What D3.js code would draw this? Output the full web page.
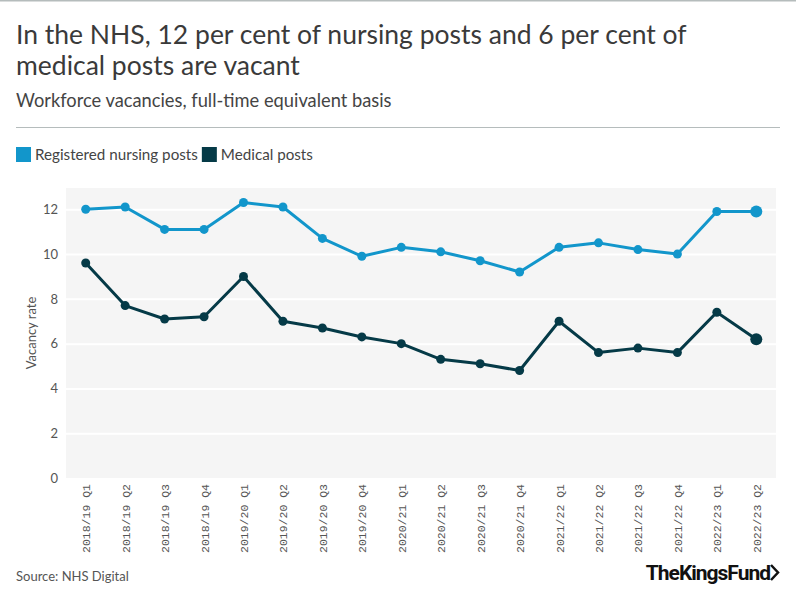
<!DOCTYPE html>
<html>
<head>
<meta charset="utf-8">
<script src="https://cdn.jsdelivr.net/npm/d3@7"></script>
<style>
  body { margin: 0; background: #fff; }
  svg { display: block; font-family: Lato, "Open Sans", sans-serif; }
</style>
</head>
<body>
<div id="chart"></div>
<script>
// quarters on the x axis
const quarters = [
  "2018/19 Q1", "2018/19 Q2", "2018/19 Q3", "2018/19 Q4",
  "2019/20 Q1", "2019/20 Q2", "2019/20 Q3", "2019/20 Q4",
  "2020/21 Q1", "2020/21 Q2", "2020/21 Q3", "2020/21 Q4",
  "2021/22 Q1", "2021/22 Q2", "2021/22 Q3", "2021/22 Q4",
  "2022/23 Q1", "2022/23 Q2"
];
const nursing = [12.0, 12.1, 11.1, 11.1, 12.3, 12.1, 10.7, 9.9, 10.3, 10.1, 9.7, 9.2, 10.3, 10.5, 10.2, 10.0, 11.9, 11.9];
const medical = [9.6, 7.7, 7.1, 7.2, 9.0, 7.0, 6.7, 6.3, 6.0, 5.3, 5.1, 4.8, 7.0, 5.6, 5.8, 5.6, 7.4, 6.2];
const yTicks = [0, 2, 4, 6, 8, 10, 12];

const series = [
  { name: "Registered nursing posts", values: nursing, color: "#1296cb" },
  { name: "Medical posts", values: medical, color: "#053a47" }
];

const width = 796, height = 600;
const plot = { left: 66, right: 776, top: 188, bottom: 478 };

const svg = d3.select("#chart").append("svg")
  .attr("width", width)
  .attr("height", height);

// thin rule along the very top
svg.append("rect").attr("x", 0).attr("y", 0).attr("width", width).attr("height", 1.5).attr("fill", "#b5bcbc");

// title block
const title = svg.append("text")
  .attr("x", 16)
  .attr("font-size", 26.5)
  .attr("fill", "#3a3a3a");
title.append("tspan").attr("x", 16).attr("y", 44).text("In the NHS, 12 per cent of nursing posts and 6 per cent of");
title.append("tspan").attr("x", 16).attr("y", 75).text("medical posts are vacant");

svg.append("text")
  .attr("x", 16).attr("y", 107)
  .attr("font-size", 18.3)
  .attr("fill", "#444")
  .text("Workforce vacancies, full-time equivalent basis");

svg.append("line")
  .attr("x1", 16).attr("x2", 780)
  .attr("y1", 127.5).attr("y2", 127.5)
  .attr("stroke", "#b5bcbc");

// legend
let lx = 16;
series.forEach(s => {
  svg.append("rect").attr("x", lx).attr("y", 147).attr("width", 15).attr("height", 15).attr("fill", s.color);
  const t = svg.append("text")
    .attr("x", lx + 19).attr("y", 160)
    .attr("font-size", 15.2)
    .attr("fill", "#444")
    .text(s.name);
  lx += 19 + t.node().getComputedTextLength() + 4;
});

// scales
const x = d3.scalePoint()
  .domain(quarters)
  .range([plot.left, plot.right])
  .padding(0.5);

const y = d3.scaleLinear()
  .domain([0, 12.95])
  .range([plot.bottom, plot.top]);

svg.append("rect")
  .attr("x", plot.left).attr("y", plot.top)
  .attr("width", plot.right - plot.left)
  .attr("height", plot.bottom - plot.top)
  .attr("fill", "#f5f5f5");

// y axis with white grid lines
const yAxis = svg.append("g")
  .attr("transform", `translate(${plot.left},0)`)
  .call(d3.axisLeft(y).tickValues(yTicks).tickSize(-(plot.right - plot.left)).tickPadding(8));
yAxis.select(".domain").remove();
yAxis.selectAll(".tick line").attr("stroke", "#fff").attr("stroke-width", 2)
  .filter(d => d === 0).remove();
yAxis.selectAll(".tick text")
  .attr("font-family", "Lato, sans-serif")
  .attr("font-size", 13)
  .attr("fill", "#555");

svg.append("text")
  .attr("transform", `translate(36,${(plot.top + plot.bottom) / 2}) rotate(-90)`)
  .attr("text-anchor", "middle")
  .attr("font-size", 13)
  .attr("fill", "#555")
  .text("Vacancy rate");

// x axis, rotated labels
const xAxis = svg.append("g")
  .attr("transform", `translate(0,${plot.bottom})`)
  .call(d3.axisBottom(x).tickSize(0));
xAxis.select(".domain").remove();
xAxis.selectAll(".tick text")
  .attr("font-family", "'Liberation Mono', monospace")
  .attr("font-size", 11.5)
  .attr("fill", "#555")
  .attr("text-anchor", "end")
  .attr("transform", "rotate(-90)")
  .attr("x", -6)
  .attr("y", 0)
  .attr("dy", "0.35em");

// lines and markers
const line = d3.line()
  .x((d, i) => x(quarters[i]))
  .y(d => y(d));

series.forEach(s => {
  svg.append("path")
    .datum(s.values)
    .attr("d", line)
    .attr("fill", "none")
    .attr("stroke", s.color)
    .attr("stroke-width", 3)
    .attr("stroke-linejoin", "round");

  svg.append("g").selectAll("circle")
    .data(s.values)
    .join("circle")
    .attr("cx", (d, i) => x(quarters[i]))
    .attr("cy", d => y(d))
    .attr("r", (d, i) => i === s.values.length - 1 ? 6 : 4.5)
    .attr("fill", s.color);
});

// footer
svg.append("text")
  .attr("x", 16).attr("y", 581)
  .attr("font-size", 13)
  .attr("fill", "#555")
  .text("Source: NHS Digital");

svg.append("text")
  .attr("x", 770).attr("y", 580)
  .attr("text-anchor", "end")
  .attr("font-family", "'Liberation Sans Narrow', 'Roboto', sans-serif")
  .attr("font-weight", "bold")
  .attr("font-size", 21)
  .attr("letter-spacing", -1)
  .attr("fill", "#111")
  .text("TheKingsFund");
svg.append("path")
  .attr("d", "M771,565 L778,572.5 L771,580")
  .attr("fill", "none")
  .attr("stroke", "#111")
  .attr("stroke-width", 2.5);
</script>
</body>
</html>
